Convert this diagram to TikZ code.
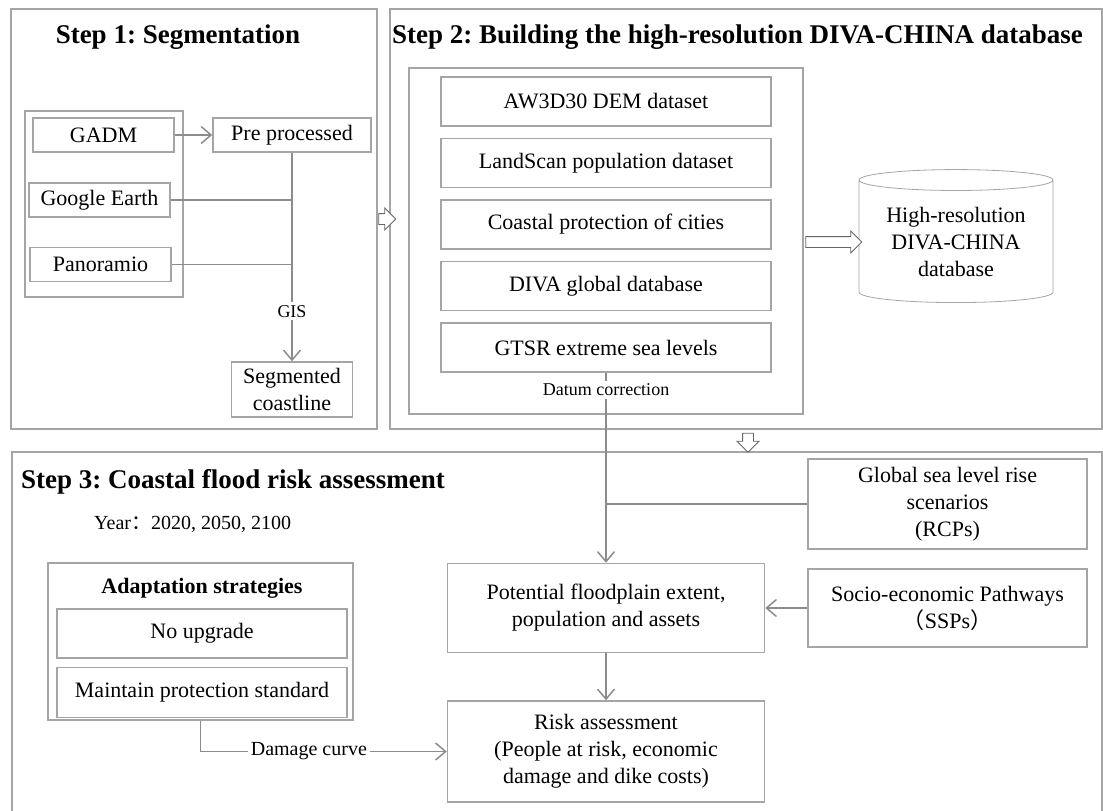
\documentclass[tikz,border=0pt]{standalone}
\usepackage{fontspec}
\setmainfont{Liberation Serif}
\newfontfamily\cjk{Noto Sans CJK SC}
\usepackage{xcolor}
\usetikzlibrary{positioning,arrows.meta,shapes.arrows,shapes.geometric}

\definecolor{framegray}{RGB}{165,165,165}
\definecolor{linkgray}{RGB}{140,140,140}
\frenchspacing

\begin{document}
\begin{tikzpicture}[
      x=1pt, y=-1pt,
      node distance=11pt and 11pt,
      txt/.style={font=\fontsize{22}{27}\selectfont},
      box/.style={draw=framegray, line width=1.5pt, align=center, inner sep=0pt, txt},
      frame/.style={draw=framegray, line width=1.5pt, inner sep=0pt},
      steptitle/.style={font=\fontsize{27}{32}\selectfont\bfseries, inner sep=0pt},
      small/.style={font=\fontsize{18}{22}\selectfont, inner sep=3pt},
      arrow/.style={-{Straight Barb[length=10pt, width=17pt]}, draw=linkgray, line width=1.5pt},
      link/.style={draw=linkgray, line width=1.5pt},
      hollow/.style={single arrow, draw=black!60, line width=0.8pt, fill=white, inner xsep=0pt, inner ysep=5pt, single arrow head extend=5.5pt}
    ]
    \useasboundingbox (0,0) rectangle (1103,811);

    \node[frame, minimum width=366pt, minimum height=420pt] (s1) at (194,219) {};
    \node[frame, minimum width=712pt, minimum height=420pt] (s2) at (746,219) {};
    \node[frame, minimum width=1090pt, minimum height=362pt] (s3) at (557,633) {};

    \node[steptitle] (t1) at (178,37) {Step 1: Segmentation};
    \node[steptitle, anchor=west] (t2) at (392,37) {Step 2: Building the high-resolution DIVA-CHINA database};
    \node[steptitle, anchor=west] (t3) at (21,482) {Step 3: Coastal flood risk assessment};

    % step 1
    \node[frame, minimum width=158pt, minimum height=186pt] (src) at (104,204) {};
    \node[box, minimum width=141pt, minimum height=34pt] (gadm) at (103.5,135) {GADM};
    \node[box, minimum width=141pt, minimum height=34pt] (ge) at (99.5,200) {Google Earth};
    \node[box, minimum width=141pt, minimum height=34pt] (pano) at (100.5,264.5) {Panoramio};
    \node[box, minimum width=158pt, minimum height=34pt] (pre) at (292,135) {Pre processed};
    \node[box, minimum width=121pt, minimum height=55pt] (seg) at (292,389.5) {Segmented\\coastline};

    \draw[arrow] (gadm) -- (pre);
    \draw[link] (ge) -- (ge -| pre);
    \draw[link] (pano) -- (pano -| pre);
    \draw[arrow] (pre) -- node[small, fill=white, pos=0.76] {GIS} (seg);

    % step 2
    \node[frame, minimum width=394pt, minimum height=346pt] (data) at (606,241) {};
    \node[box, minimum width=330pt, minimum height=49pt] (dem) at (606,101.5) {AW3D30 DEM dataset};
    \node[box, minimum width=330pt, minimum height=49pt, below=11pt of dem] (pop) {LandScan population dataset};
    \node[box, minimum width=330pt, minimum height=49pt, below=11pt of pop] (prot) {Coastal protection of cities};
    \node[box, minimum width=330pt, minimum height=49pt, below=11pt of prot] (diva) {DIVA global database};
    \node[box, minimum width=330pt, minimum height=49pt, below=11pt of diva] (gtsr) {GTSR extreme sea levels};
    \node[small] (datum) at (606,390) {Datum correction};
    \node[cylinder, shape border rotate=90, draw=framegray, line width=0.8pt, aspect=0.15,
          minimum width=194pt, minimum height=133pt, align=center, txt, inner sep=0pt] (db) at (956,241.5)
          {High-resolution\\DIVA-CHINA\\database};

    \node[hollow, minimum height=17pt] (h12) at (384.5,219) {};
    \node[hollow, minimum height=56pt] (hdb) at (831,242) {};
    \node[hollow, minimum height=19pt, rotate=-90] (h23) at (748,440) {};

    % step 3
    \node[anchor=west, font=\fontsize{20}{24}\selectfont, inner sep=0pt] (year) at (94,524) {Year{\cjk ：}2020, 2050, 2100};
    \node[frame, minimum width=305pt, minimum height=157pt] (adapt) at (200.5,641.5) {};
    \node[txt, font=\fontsize{22}{27}\selectfont\bfseries, inner sep=0pt] (adtitle) at (202,588) {Adaptation strategies};
    \node[box, minimum width=290pt, minimum height=49pt] (noup) at (202,633.5) {No upgrade};
    \node[box, minimum width=290pt, minimum height=50pt, below=8pt of noup] (maint) {Maintain protection standard};
    \node[box, minimum width=317pt, minimum height=89pt] (pot) at (606,608) {Potential floodplain extent,\\population and assets};
    \node[box, minimum width=317pt, minimum height=101pt] (risk) at (606,751.5) {Risk assessment\\(People at risk, economic\\damage and dike costs)};
    \node[box, minimum width=279pt, minimum height=90pt] (slr) at (947.5,504) {Global sea level rise\\scenarios\\(RCPs)};
    \node[box, minimum width=279pt, minimum height=78pt] (ssp) at (947.5,608) {Socio-economic Pathways\\{\cjk （}SSPs{\cjk ）}};

    \draw[link] (gtsr) -- (datum);
    \draw[arrow] (datum) -- (pot);
    \draw[link] (slr) -- (slr -| pot);
    \draw[arrow] (ssp) -- (pot);
    \draw[arrow] (pot) -- (risk);
    \draw[arrow] (adapt.south) |- node[small, fill=white, pos=0.72, font=\fontsize{20}{24}\selectfont] {Damage curve} (risk.west);
  \end{tikzpicture}
\end{document}
